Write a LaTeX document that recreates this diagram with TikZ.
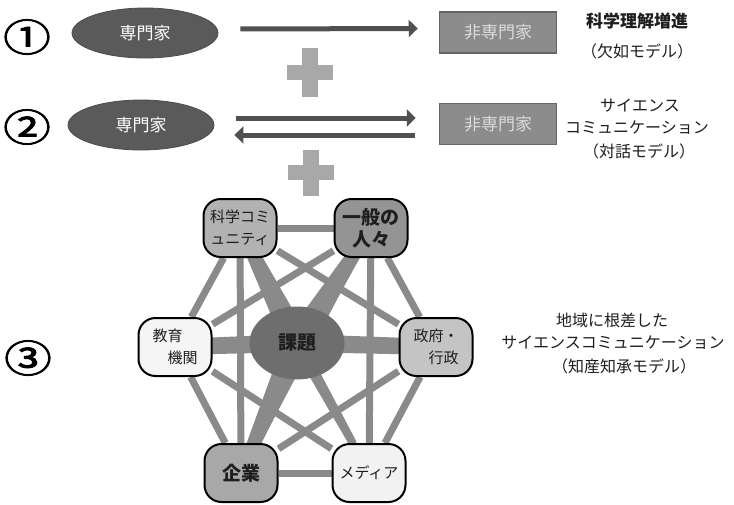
\documentclass[tikz,border=0pt]{standalone}
\usepackage{fontspec}
\setmainfont{Noto Sans CJK JP}
\newfontfamily\numfont[FakeBold=2]{Noto Sans CJK JP}
\usetikzlibrary{shapes.geometric,arrows.meta,calc,backgrounds}
\definecolor{ellc}{HTML}{5A5A5A}
\definecolor{rectc}{HTML}{8C8C8C}
\definecolor{rectb}{HTML}{666666}
\definecolor{recttxt}{HTML}{DCDCDC}
\definecolor{plusc}{HTML}{A8A8A8}
\definecolor{edgec}{HTML}{8A8A8A}
\definecolor{arrc}{HTML}{505050}
\definecolor{txtc}{HTML}{1E1E1E}
\newcommand\wedgeedge[4]{\fill[edgec] ($(#1)!#3!90:(#2)$) -- ($(#2)!#4!-90:(#1)$) -- ($(#2)!#4!90:(#1)$) -- ($(#1)!#3!-90:(#2)$) -- cycle;}
\tikzset{
  expert/.style={ellipse, fill=ellc, draw=black!70, line width=0.8pt, minimum width=146pt, minimum height=50pt, inner sep=0pt, text=white, font=\fontsize{17}{18}\selectfont},
  layman/.style={rectangle, fill=rectc, draw=rectb, line width=1.5pt, minimum width=117pt, minimum height=41pt, inner sep=0pt, text=recttxt, font=\fontsize{17}{19}\selectfont},
  bigarrow/.style={draw=arrc, line width=5pt, -{Triangle[length=9pt,width=17pt]}},
  note/.style={text=txtc, align=center, inner sep=0pt, font=\fontsize{16}{24}\selectfont},
  num/.style={text=black, inner sep=0pt, xscale=1.25, transform shape, font=\fontsize{38}{38}\numfont},
  actor/.style={rectangle, rounded corners=17pt, draw=black, line width=2pt, minimum width=73pt, minimum height=58pt, inner sep=0pt, text=txtc, align=center, font=\fontsize{15}{22}\selectfont},
  link/.style={draw=edgec, line width=7pt},
}
\begin{document}
\begin{tikzpicture}[x=1pt,y=-1pt]
\useasboundingbox (0,0) rectangle (734,504);
% row 1
\node[num] (n1) at (27,37) {①};
\node[expert] (e1) at (145,33) {専門家};
\node[layman] (r1) at (498,32.5) {非専門家};
\draw[bigarrow, shorten <=22pt, shorten >=21pt] ([yshift=4pt]e1.east) -- ([yshift=4pt]r1.west);
\node[note, font=\fontsize{17}{24}\bfseries] (t1a) at (637,21) {科学理解増進};
\node[note] (t1b) at (637,51) {（欠如モデル）};
% plus 1
\fill[plusc] (302,48) rectangle (318,97);
\fill[plusc] (287,65) rectangle (333,80);
% row 2
\node[num] (n2) at (27,127) {②};
\node[expert] (e2) at (141,125) {専門家};
\node[layman] (r2) at (498,124) {非専門家};
\draw[bigarrow, shorten <=22pt, shorten >=23pt] ([yshift=7pt]e2.east) -- ([yshift=6pt]r2.west);
\draw[bigarrow, shorten <=24pt, shorten >=20pt] ([yshift=-11pt]r2.west) -- ([yshift=-10pt]e2.east);
\node[note] (t2a) at (640,106) {サイエンス};
\node[note] (t2b) at (637,128) {コミュニケーション};
\node[note] (t2c) at (639,151) {（対話モデル）};
% plus 2
\fill[plusc] (303,150) rectangle (319,196);
\fill[plusc] (288,165) rectangle (334,180);
% row 3
\node[num] (n3) at (28,358) {③};
\node[ellipse, fill=black!57, minimum width=95pt, minimum height=73pt, inner sep=0pt, text=txtc, font=\fontsize{19}{22}\bfseries] (c) at (297,343) {課題};
\node[actor, fill=black!30] (A) at (240,228) {科学コミ\\ュニティ};
\node[actor, fill=black!42, font=\fontsize{19}{22}\bfseries] (B) at (371,228) {一般の\\人々};
\node[actor, fill=black!4, align=left] (D) at (175,347) {教育\\\hspace{1em}機関};
\node[actor, fill=black!23, align=left] (E) at (436,347) {政府・\\\hspace{1em}行政};
\node[actor, fill=black!34, font=\fontsize{19}{22}\bfseries] (F) at (241,473) {企業};
\node[actor, fill=black!5] (G) at (369,473) {メディア};
\begin{scope}[on background layer]
  \fill[white] (0,0) rectangle (734,504);
  \foreach \a/\b in {A/B,A/D,A/E,A/F,A/G,B/D,B/E,B/F,B/G,D/E,D/F,D/G,E/F,E/G,F/G}
    \draw[link] (\a) -- (\b);
  \wedgeedge{c}{A}{13pt}{5pt}
  \wedgeedge{c}{B}{13pt}{5pt}
  \wedgeedge{c}{D}{9pt}{8pt}
  \wedgeedge{c}{E}{9pt}{8pt}
  \wedgeedge{c}{F}{13pt}{5pt}
  \wedgeedge{c}{G}{6pt}{3pt}
\end{scope}
\node[note] (t3a) at (612,320) {地域に根差した};
\node[note] (t3b) at (613,343) {サイエンスコミュニケーション};
\node[note] (t3c) at (624,366) {（知産知承モデル）};
\end{tikzpicture}
\end{document}
